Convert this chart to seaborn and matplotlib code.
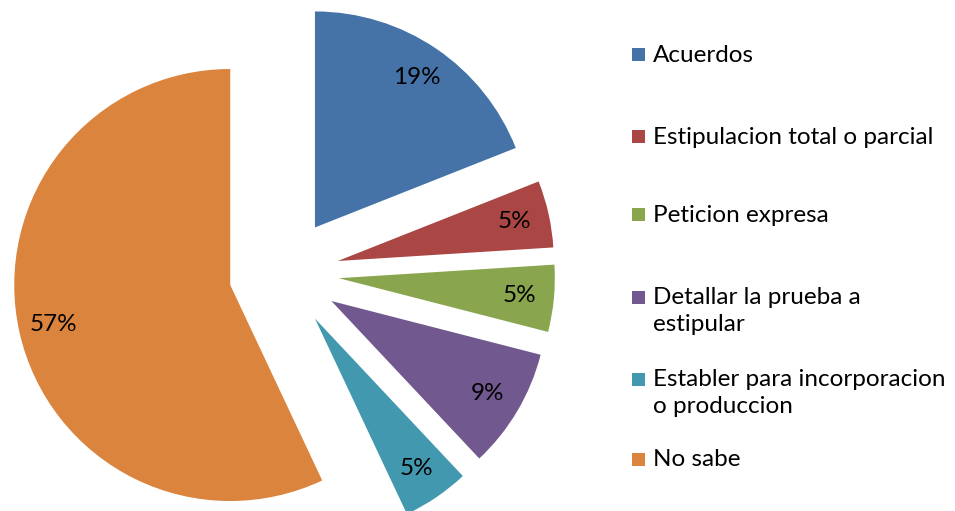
import matplotlib
matplotlib.use("Agg")
import matplotlib.pyplot as plt
from matplotlib.patches import Rectangle
import seaborn as sns

sns.set_theme(style="white")
plt.rcParams["font.family"] = ["Lato", "DejaVu Sans"]

categories = [
    "Acuerdos",
    "Estipulacion total o parcial",
    "Peticion expresa",
    "Detallar la prueba a\nestipular",
    "Establer para incorporacion\no produccion",
    "No sabe",
]
shares = [19, 5, 5, 9, 5, 57]
colors = ["#4572A7", "#AA4643", "#89A54E", "#71588F", "#4198AF", "#DB843D"]

W, H = 955, 511
fig = plt.figure(figsize=(W / 100, H / 100), dpi=100)

# pie geometry in pixels
R = 216.0
cx, cy = 284.0, 273.0          # centre, measured from top-left
ax = fig.add_axes([0, 0, 2 * cx / W, 1])

wedges, texts, autotexts = ax.pie(
    shares,
    colors=colors,
    startangle=90,
    counterclock=False,
    explode=[0.255] * len(shares),
    radius=1.0,
    autopct=lambda p: f"{p:.0f}%",
    pctdistance=0.84,
    wedgeprops=dict(linewidth=0),
    textprops=dict(fontsize=17.5, color="#000000"),
)
for w in wedges:
    w.set_clip_on(False)
ax.set_aspect("auto")
ax.set_xlim(-cx / R, cx / R)
ax.set_ylim(-(H - cy) / R, cy / R)
ax.set_axis_off()

# legend drawn as swatches plus text rows
row_y = [55, 137, 215, 311, 393, 459]   # vertical centre of each row (px from top)
sw = 13
for label, col, y in zip(categories, colors, row_y):
    n = label.count("\n") + 1
    first = y - (n - 1) * 14
    fig.add_artist(Rectangle((632 / W, (H - first - sw / 2) / H), sw / W, sw / H,
                             transform=fig.transFigure, facecolor=col, edgecolor="none"))
    fig.text(653 / W, (H - y) / H, label, fontsize=17.5, va="center", ha="left",
             color="#000000", linespacing=1.36)

fig.savefig("out.png", dpi=100, facecolor="white")
